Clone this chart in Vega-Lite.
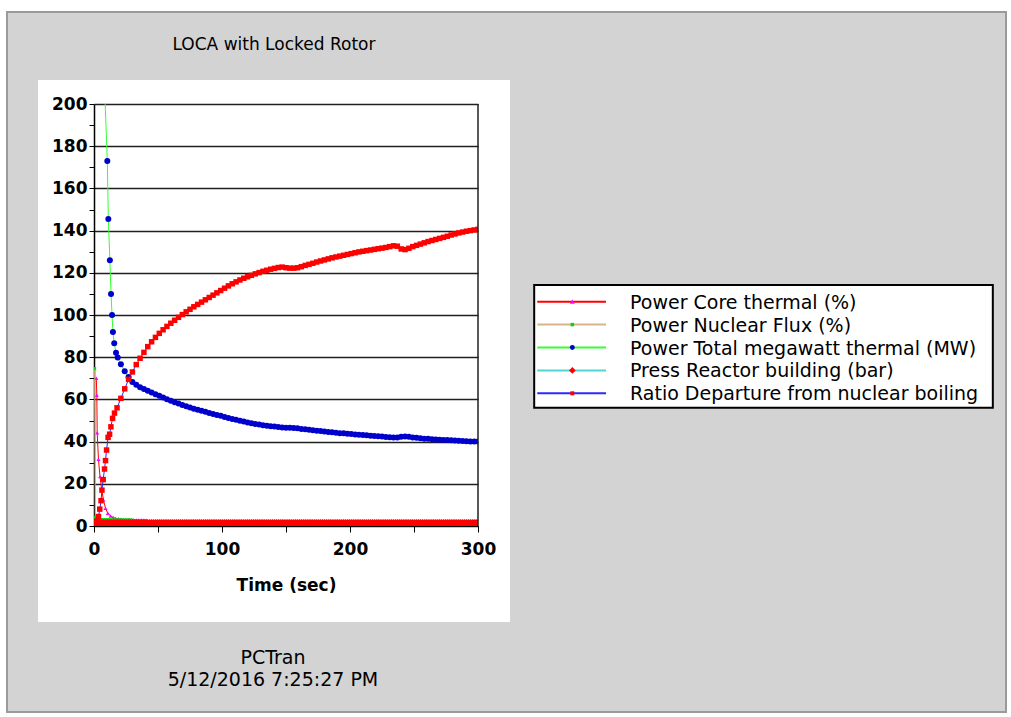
{
"$schema": "https://vega.github.io/schema/vega-lite/v6.json",
"width": 384,
"height": 422,
"autosize": {"type": "none"},
"padding": {"left": 94, "top": 104, "right": 533, "bottom": 191},
"background": "#ffffff",
"config": {"view": {"stroke": null}, "font": "DejaVu Sans"},
"datasets": {
"core": [{"t":1.8,"v":70},{"t":2.2,"v":62},{"t":2.5,"v":44.2},{"t":3.5,"v":31.6},{"t":4.7,"v":23.4},{"t":6.1,"v":17},{"t":7.4,"v":12.3},{"t":9,"v":8.4},{"t":10.8,"v":6},{"t":13,"v":4.7},{"t":15,"v":4},{"t":17,"v":3.6},{"t":19,"v":3.4},{"t":21,"v":3.2},{"t":23,"v":3.1},{"t":25,"v":3},{"t":27,"v":3},{"t":29,"v":2.9},{"t":31,"v":2.9},{"t":33,"v":2.9},{"t":35,"v":2.8},{"t":37,"v":2.8},{"t":39,"v":2.8},{"t":41,"v":2.7},{"t":50,"v":1.8},{"t":100,"v":1.6},{"t":200,"v":1.5},{"t":300,"v":1.4}],
"flux": [{"t":0.5,"v":74.6},{"t":1,"v":4},{"t":2,"v":3.4},{"t":3,"v":3.2},{"t":4.5,"v":3.1},{"t":6,"v":3.1},{"t":7.5,"v":3},{"t":9,"v":3},{"t":10.5,"v":3},{"t":12,"v":3},{"t":13.5,"v":2.9},{"t":15,"v":2.9},{"t":16.5,"v":2.9},{"t":18,"v":2.9},{"t":19.5,"v":2.9},{"t":21,"v":2.9},{"t":22.5,"v":2.9},{"t":24,"v":2.9},{"t":25.5,"v":2.9},{"t":27,"v":2.9},{"t":28.5,"v":2.9},{"t":30,"v":2.8},{"t":40,"v":1.8},{"t":100,"v":1.5},{"t":200,"v":1.4},{"t":300,"v":1.3}],
"total": [{"t":8,"v":212},{"t":10.4,"v":173},{"t":11.2,"v":145.5},{"t":12.4,"v":126},{"t":13.3,"v":110},{"t":14.1,"v":100},{"t":14.8,"v":92},{"t":15.8,"v":86.6},{"t":17.2,"v":82.1},{"t":18.5,"v":79.8},{"t":21,"v":76.6},{"t":24,"v":73.3},{"t":27,"v":70.6},{"t":30,"v":68.3},{"t":33,"v":66.9},{"t":36,"v":65.8},{"t":39,"v":64.9},{"t":42,"v":64.1},{"t":45,"v":63.3},{"t":48,"v":62.5},{"t":51,"v":61.7},{"t":54,"v":60.9},{"t":57,"v":60.1},{"t":60,"v":59.4},{"t":63,"v":58.7},{"t":66,"v":58},{"t":69,"v":57.4},{"t":72,"v":56.8},{"t":75,"v":56.2},{"t":78,"v":55.6},{"t":81,"v":55.1},{"t":84,"v":54.6},{"t":87,"v":54.1},{"t":90,"v":53.6},{"t":93,"v":53.1},{"t":96,"v":52.6},{"t":99,"v":52.2},{"t":102,"v":51.7},{"t":105,"v":51.2},{"t":108,"v":50.7},{"t":111,"v":50.3},{"t":114,"v":49.9},{"t":117,"v":49.5},{"t":120,"v":49.1},{"t":123,"v":48.7},{"t":126,"v":48.4},{"t":129,"v":48.1},{"t":132,"v":47.8},{"t":135,"v":47.5},{"t":138,"v":47.3},{"t":141,"v":47.1},{"t":144,"v":46.9},{"t":147,"v":46.7},{"t":150,"v":46.6},{"t":153,"v":46.6},{"t":156,"v":46.5},{"t":159,"v":46.3},{"t":162,"v":46},{"t":165,"v":45.8},{"t":168,"v":45.6},{"t":171,"v":45.4},{"t":174,"v":45.2},{"t":177,"v":45},{"t":180,"v":44.8},{"t":183,"v":44.6},{"t":186,"v":44.4},{"t":189,"v":44.2},{"t":192,"v":44},{"t":195,"v":43.9},{"t":198,"v":43.7},{"t":201,"v":43.6},{"t":204,"v":43.4},{"t":207,"v":43.3},{"t":210,"v":43.1},{"t":213,"v":43},{"t":216,"v":42.8},{"t":219,"v":42.7},{"t":222,"v":42.5},{"t":225,"v":42.4},{"t":228,"v":42.2},{"t":231,"v":42.1},{"t":234,"v":42},{"t":237,"v":42},{"t":240,"v":42.3},{"t":243,"v":42.4},{"t":246,"v":42.3},{"t":249,"v":42},{"t":252,"v":41.8},{"t":255,"v":41.6},{"t":258,"v":41.4},{"t":261,"v":41.3},{"t":264,"v":41.1},{"t":267,"v":41},{"t":270,"v":40.9},{"t":273,"v":40.8},{"t":276,"v":40.7},{"t":279,"v":40.6},{"t":282,"v":40.5},{"t":285,"v":40.4},{"t":288,"v":40.3},{"t":291,"v":40.2},{"t":294,"v":40.1},{"t":297,"v":40},{"t":300,"v":40}],
"press": [{"t":0,"v":1.1},{"t":1.5,"v":1.1},{"t":3,"v":1.1},{"t":4.5,"v":1.1},{"t":6,"v":1.1},{"t":7.5,"v":1.1},{"t":9,"v":1.1},{"t":10.5,"v":1.1},{"t":12,"v":1.1},{"t":13.5,"v":1.1},{"t":15,"v":1.1},{"t":16.5,"v":1.1},{"t":18,"v":1.1},{"t":19.5,"v":1.1},{"t":21,"v":1.1},{"t":22.5,"v":1.1},{"t":24,"v":1.1},{"t":25.5,"v":1.1},{"t":27,"v":1.1},{"t":28.5,"v":1.1},{"t":30,"v":1.1},{"t":31.5,"v":1.1},{"t":33,"v":1.1},{"t":34.5,"v":1.1},{"t":36,"v":1.1},{"t":37.5,"v":1.1},{"t":39,"v":1.1},{"t":40.5,"v":1.1},{"t":42,"v":1.1},{"t":43.5,"v":1.1},{"t":45,"v":1.1},{"t":46.5,"v":1.1},{"t":48,"v":1.1},{"t":49.5,"v":1.1},{"t":51,"v":1.1},{"t":52.5,"v":1.1},{"t":54,"v":1.1},{"t":55.5,"v":1.1},{"t":57,"v":1.1},{"t":58.5,"v":1.1},{"t":60,"v":1.1},{"t":61.5,"v":1.1},{"t":63,"v":1.1},{"t":64.5,"v":1.1},{"t":66,"v":1.1},{"t":67.5,"v":1.1},{"t":69,"v":1.1},{"t":70.5,"v":1.1},{"t":72,"v":1.1},{"t":73.5,"v":1.1},{"t":75,"v":1.1},{"t":76.5,"v":1.1},{"t":78,"v":1.1},{"t":79.5,"v":1.1},{"t":81,"v":1.1},{"t":82.5,"v":1.1},{"t":84,"v":1.1},{"t":85.5,"v":1.1},{"t":87,"v":1.1},{"t":88.5,"v":1.1},{"t":90,"v":1.1},{"t":91.5,"v":1.1},{"t":93,"v":1.1},{"t":94.5,"v":1.1},{"t":96,"v":1.1},{"t":97.5,"v":1.1},{"t":99,"v":1.1},{"t":100.5,"v":1.1},{"t":102,"v":1.1},{"t":103.5,"v":1.1},{"t":105,"v":1.1},{"t":106.5,"v":1.1},{"t":108,"v":1.1},{"t":109.5,"v":1.1},{"t":111,"v":1.1},{"t":112.5,"v":1.1},{"t":114,"v":1.1},{"t":115.5,"v":1.1},{"t":117,"v":1.1},{"t":118.5,"v":1.1},{"t":120,"v":1.1},{"t":121.5,"v":1.1},{"t":123,"v":1.1},{"t":124.5,"v":1.1},{"t":126,"v":1.1},{"t":127.5,"v":1.1},{"t":129,"v":1.1},{"t":130.5,"v":1.1},{"t":132,"v":1.1},{"t":133.5,"v":1.1},{"t":135,"v":1.1},{"t":136.5,"v":1.1},{"t":138,"v":1.1},{"t":139.5,"v":1.1},{"t":141,"v":1.1},{"t":142.5,"v":1.1},{"t":144,"v":1.1},{"t":145.5,"v":1.1},{"t":147,"v":1.1},{"t":148.5,"v":1.1},{"t":150,"v":1.1},{"t":151.5,"v":1.1},{"t":153,"v":1.1},{"t":154.5,"v":1.1},{"t":156,"v":1.1},{"t":157.5,"v":1.1},{"t":159,"v":1.1},{"t":160.5,"v":1.1},{"t":162,"v":1.1},{"t":163.5,"v":1.1},{"t":165,"v":1.1},{"t":166.5,"v":1.1},{"t":168,"v":1.1},{"t":169.5,"v":1.1},{"t":171,"v":1.1},{"t":172.5,"v":1.1},{"t":174,"v":1.1},{"t":175.5,"v":1.1},{"t":177,"v":1.1},{"t":178.5,"v":1.1},{"t":180,"v":1.1},{"t":181.5,"v":1.1},{"t":183,"v":1.1},{"t":184.5,"v":1.1},{"t":186,"v":1.1},{"t":187.5,"v":1.1},{"t":189,"v":1.1},{"t":190.5,"v":1.1},{"t":192,"v":1.1},{"t":193.5,"v":1.1},{"t":195,"v":1.1},{"t":196.5,"v":1.1},{"t":198,"v":1.1},{"t":199.5,"v":1.1},{"t":201,"v":1.1},{"t":202.5,"v":1.1},{"t":204,"v":1.1},{"t":205.5,"v":1.1},{"t":207,"v":1.1},{"t":208.5,"v":1.1},{"t":210,"v":1.1},{"t":211.5,"v":1.1},{"t":213,"v":1.1},{"t":214.5,"v":1.1},{"t":216,"v":1.1},{"t":217.5,"v":1.1},{"t":219,"v":1.1},{"t":220.5,"v":1.1},{"t":222,"v":1.1},{"t":223.5,"v":1.1},{"t":225,"v":1.1},{"t":226.5,"v":1.1},{"t":228,"v":1.1},{"t":229.5,"v":1.1},{"t":231,"v":1.1},{"t":232.5,"v":1.1},{"t":234,"v":1.1},{"t":235.5,"v":1.1},{"t":237,"v":1.1},{"t":238.5,"v":1.1},{"t":240,"v":1.1},{"t":241.5,"v":1.1},{"t":243,"v":1.1},{"t":244.5,"v":1.1},{"t":246,"v":1.1},{"t":247.5,"v":1.1},{"t":249,"v":1.1},{"t":250.5,"v":1.1},{"t":252,"v":1.1},{"t":253.5,"v":1.1},{"t":255,"v":1.1},{"t":256.5,"v":1.1},{"t":258,"v":1.1},{"t":259.5,"v":1.1},{"t":261,"v":1.1},{"t":262.5,"v":1.1},{"t":264,"v":1.1},{"t":265.5,"v":1.1},{"t":267,"v":1.1},{"t":268.5,"v":1.1},{"t":270,"v":1.1},{"t":271.5,"v":1.1},{"t":273,"v":1.1},{"t":274.5,"v":1.1},{"t":276,"v":1.1},{"t":277.5,"v":1.1},{"t":279,"v":1.1},{"t":280.5,"v":1.1},{"t":282,"v":1.1},{"t":283.5,"v":1.1},{"t":285,"v":1.1},{"t":286.5,"v":1.1},{"t":288,"v":1.1},{"t":289.5,"v":1.1},{"t":291,"v":1.1},{"t":292.5,"v":1.1},{"t":294,"v":1.1},{"t":295.5,"v":1.1},{"t":297,"v":1.1},{"t":298.5,"v":1.1},{"t":300,"v":1.1}],
"dnb": [{"t":0,"v":0.5},{"t":1.5,"v":1.2},{"t":2.6,"v":2.5},{"t":3.5,"v":4.5},{"t":4.5,"v":8},{"t":5.5,"v":12},{"t":6.2,"v":17},{"t":7.2,"v":22},{"t":8.2,"v":27},{"t":9,"v":31},{"t":9.8,"v":36},{"t":11,"v":42},{"t":12.2,"v":43.5},{"t":13.2,"v":47},{"t":14.5,"v":51},{"t":16,"v":53.5},{"t":18,"v":56},{"t":21,"v":60.5},{"t":24,"v":65},{"t":27,"v":69.5},{"t":30,"v":73},{"t":33,"v":76.5},{"t":36,"v":79.5},{"t":39,"v":82.3},{"t":42,"v":85},{"t":45,"v":87.3},{"t":48,"v":89.4},{"t":51,"v":91.3},{"t":54,"v":93},{"t":57,"v":94.6},{"t":60,"v":96.1},{"t":63,"v":97.5},{"t":66,"v":98.9},{"t":69,"v":100.2},{"t":72,"v":101.5},{"t":75,"v":102.7},{"t":78,"v":103.9},{"t":81,"v":105},{"t":84,"v":106.1},{"t":87,"v":107.2},{"t":90,"v":108.3},{"t":93,"v":109.4},{"t":96,"v":110.5},{"t":99,"v":111.6},{"t":102,"v":112.7},{"t":105,"v":113.8},{"t":108,"v":114.8},{"t":111,"v":115.7},{"t":114,"v":116.6},{"t":117,"v":117.4},{"t":120,"v":118.1},{"t":123,"v":118.8},{"t":126,"v":119.5},{"t":129,"v":120.1},{"t":132,"v":120.7},{"t":135,"v":121.2},{"t":138,"v":121.7},{"t":141,"v":122.1},{"t":144,"v":122.5},{"t":147,"v":122.7},{"t":150,"v":122.4},{"t":153,"v":122.2},{"t":156,"v":122.2},{"t":159,"v":122.4},{"t":162,"v":122.9},{"t":165,"v":123.5},{"t":168,"v":124},{"t":171,"v":124.5},{"t":174,"v":125.1},{"t":177,"v":125.6},{"t":180,"v":126.1},{"t":183,"v":126.6},{"t":186,"v":127.1},{"t":189,"v":127.5},{"t":192,"v":127.9},{"t":195,"v":128.3},{"t":198,"v":128.7},{"t":201,"v":129.1},{"t":204,"v":129.5},{"t":207,"v":129.9},{"t":210,"v":130.2},{"t":213,"v":130.5},{"t":216,"v":130.8},{"t":219,"v":131.1},{"t":222,"v":131.4},{"t":225,"v":131.7},{"t":228,"v":132},{"t":231,"v":132.4},{"t":234,"v":132.8},{"t":237,"v":132.6},{"t":240,"v":131.3},{"t":243,"v":131},{"t":246,"v":131.6},{"t":249,"v":132.4},{"t":252,"v":133},{"t":255,"v":133.6},{"t":258,"v":134.2},{"t":261,"v":134.8},{"t":264,"v":135.3},{"t":267,"v":135.8},{"t":270,"v":136.3},{"t":273,"v":136.8},{"t":276,"v":137.3},{"t":279,"v":137.9},{"t":282,"v":138.4},{"t":285,"v":138.9},{"t":288,"v":139.3},{"t":291,"v":139.7},{"t":294,"v":140},{"t":297,"v":140.3},{"t":300,"v":140.6}],
"legend": [{"name":"Power Core thermal (%)"},{"name":"Power Nuclear Flux (%)"},{"name":"Power Total megawatt thermal (MW)"},{"name":"Press Reactor building (bar)"},{"name":"Ratio Departure from nuclear boiling"}]
},
"layer": [
{"data":{"values":[{}]},"mark":{"type":"rect","color":"#d3d3d3"},"encoding":{"x":{"datum":-67.97,"type":"quantitative"},"x2":{"datum":712.5},"y":{"datum":243.6,"type":"quantitative","scale":{"domain":[0,200],"nice":false},"axis":null},"y2":{"datum":211.37}}},
{"data":{"values":[{}]},"mark":{"type":"rect","color":"#d3d3d3"},"encoding":{"x":{"datum":-67.97,"type":"quantitative"},"x2":{"datum":712.5},"y":{"datum":-45.5,"type":"quantitative","scale":{"domain":[0,200],"nice":false},"axis":null},"y2":{"datum":-88.15}}},
{"data":{"values":[{}]},"mark":{"type":"rect","color":"#d3d3d3"},"encoding":{"x":{"datum":-67.97,"type":"quantitative"},"x2":{"datum":-43.75},"y":{"datum":211.37,"type":"quantitative","scale":{"domain":[0,200],"nice":false},"axis":null},"y2":{"datum":-45.5}}},
{"data":{"values":[{}]},"mark":{"type":"rect","color":"#d3d3d3"},"encoding":{"x":{"datum":325,"type":"quantitative"},"x2":{"datum":712.5},"y":{"datum":211.37,"type":"quantitative","scale":{"domain":[0,200],"nice":false},"axis":null},"y2":{"datum":-45.5}}},
{"data":{"values":[{}]},"mark":{"type":"rect","fill":"#ffffff","fillOpacity":0,"stroke":"#9a9a9a","strokeWidth":2},"encoding":{"x":{"datum":-67.97,"type":"quantitative"},"x2":{"datum":712.5},"y":{"datum":243.6,"type":"quantitative","scale":{"domain":[0,200],"nice":false},"axis":null},"y2":{"datum":-88.15}}},
{"data":{"values":[{}]},"mark":{"type":"text","text":"LOCA with Locked Rotor","font":"DejaVu Sans","fontSize":17,"color":"#000000","align":"center","baseline":"middle"},"encoding":{"x":{"datum":140.6,"type":"quantitative"},"y":{"datum":228,"type":"quantitative","scale":{"domain":[0,200],"nice":false},"axis":null}}},
{"data":{"values":[{}]},"mark":{"type":"text","text":"PCTran","font":"DejaVu Sans","fontSize":19,"color":"#000000","align":"center","baseline":"middle"},"encoding":{"x":{"datum":139.8,"type":"quantitative"},"y":{"datum":-62.6,"type":"quantitative","scale":{"domain":[0,200],"nice":false},"axis":null}}},
{"data":{"values":[{}]},"mark":{"type":"text","text":"5/12/2016 7:25:27 PM","font":"DejaVu Sans","fontSize":19,"color":"#000000","align":"center","baseline":"middle"},"encoding":{"x":{"datum":139.8,"type":"quantitative"},"y":{"datum":-73,"type":"quantitative","scale":{"domain":[0,200],"nice":false},"axis":null}}},
{"data":{"values":[{}]},"mark":{"type":"rect","fill":"#ffffff","stroke":"#000000","strokeWidth":2},"encoding":{"x":{"datum":343.9,"type":"quantitative"},"x2":{"datum":702.2},"y":{"datum":114.2,"type":"quantitative","scale":{"domain":[0,200],"nice":false},"axis":null},"y2":{"datum":56}}},
{"data":{"name":"core"},"mark":{"type":"line","color":"#ff0000","strokeWidth":1,"clip":true},
"encoding":{
"x":{"field":"t","type":"quantitative","scale":{"domain":[0,300],"nice":false,"zero":false},
"axis":{"values":[0,50,100,150,200,250,300],"labelExpr":"datum.value % 100 === 0 ? datum.label : ''","title":"Time (sec)","grid":false,"domainColor":"#000000","domainWidth":1,"tickColor":"#000000","tickSize":6,"labelFont":"DejaVu Sans","labelFontWeight":"bold","labelFontSize":17,"labelColor":"#000000","labelPadding":9,"labelFlush":false,"labelOverlap":false,"titleFont":"DejaVu Sans","titleFontWeight":"bold","titleFontSize":17,"titleColor":"#000000","titlePadding":20}},
"y":{"field":"v","type":"quantitative","scale":{"domain":[0,200],"nice":false},
"axis":{"values":[0,10,20,30,40,50,60,70,80,90,100,110,120,130,140,150,160,170,180,190,200],"labelExpr":"datum.value % 20 === 0 ? datum.label : ''","title":null,"grid":true,"gridColor":"#202020","gridWidth":1.5,"gridOpacity":{"condition":{"test":"datum.value % 20 === 0","value":1},"value":0},"domainColor":"#000000","domainWidth":1.5,"tickColor":"#000000","tickSize":5,"labelFont":"DejaVu Sans","labelFontWeight":"bold","labelFontSize":17,"labelColor":"#000000","labelPadding":2,"labelFlush":false,"labelOverlap":false}}}},
{"data":{"name":"core"},"mark":{"type":"point","shape":"triangle-up","filled":true,"color":"#ff00ff","size":16,"opacity":1,"strokeWidth":0,"clip":true},
"encoding":{"x":{"field":"t","type":"quantitative"},"y":{"field":"v","type":"quantitative","scale":{"domain":[0,200],"nice":false},"axis":null}}},
{"data":{"name":"flux"},"mark":{"type":"line","color":"#d8b48c","strokeWidth":1,"clip":true},
"encoding":{"x":{"field":"t","type":"quantitative"},"y":{"field":"v","type":"quantitative","scale":{"domain":[0,200],"nice":false},"axis":null}}},
{"data":{"name":"flux"},"mark":{"type":"point","shape":"square","filled":true,"color":"#00dd00","size":9,"opacity":1,"strokeWidth":0,"clip":true},
"encoding":{"x":{"field":"t","type":"quantitative"},"y":{"field":"v","type":"quantitative","scale":{"domain":[0,200],"nice":false},"axis":null}}},
{"data":{"name":"total"},"mark":{"type":"line","color":"#33ff33","strokeWidth":1,"clip":true},
"encoding":{"x":{"field":"t","type":"quantitative"},"y":{"field":"v","type":"quantitative","scale":{"domain":[0,200],"nice":false},"axis":null}}},
{"data":{"name":"total"},"mark":{"type":"point","shape":"circle","filled":true,"color":"#0000cc","size":36,"opacity":1,"strokeWidth":0,"clip":true},
"encoding":{"x":{"field":"t","type":"quantitative"},"y":{"field":"v","type":"quantitative","scale":{"domain":[0,200],"nice":false},"axis":null}}},
{"data":{"name":"press"},"mark":{"type":"line","color":"#4fd5d5","strokeWidth":1,"clip":true},
"encoding":{"x":{"field":"t","type":"quantitative"},"y":{"field":"v","type":"quantitative","scale":{"domain":[0,200],"nice":false},"axis":null}}},
{"data":{"name":"press"},"mark":{"type":"point","shape":"diamond","filled":true,"color":"#ff0000","size":90,"opacity":1,"strokeWidth":0,"clip":true},
"encoding":{"x":{"field":"t","type":"quantitative"},"y":{"field":"v","type":"quantitative","scale":{"domain":[0,200],"nice":false},"axis":null}}},
{"data":{"name":"dnb"},"mark":{"type":"line","color":"#2a2aff","strokeWidth":1,"clip":true},
"encoding":{"x":{"field":"t","type":"quantitative"},"y":{"field":"v","type":"quantitative","scale":{"domain":[0,200],"nice":false},"axis":null}}},
{"data":{"name":"dnb"},"mark":{"type":"point","shape":"square","filled":true,"color":"#ff0000","size":30,"opacity":1,"strokeWidth":0,"clip":true},
"encoding":{"x":{"field":"t","type":"quantitative"},"y":{"field":"v","type":"quantitative","scale":{"domain":[0,200],"nice":false},"axis":null}}},
{"data":{"values":[{}]},"mark":{"type":"rule","color":"#202020","strokeWidth":1.5},"encoding":{"x":{"datum":300,"type":"quantitative"},"y":{"datum":0,"type":"quantitative","scale":{"domain":[0,200],"nice":false},"axis":null},"y2":{"datum":200}}},
{"data":{"name":"legend"},"mark":{"type":"rule","strokeWidth":2},
"encoding":{"x":{"datum":346.3,"type":"quantitative"},"x2":{"datum":400},
"y":{"field":"name","type":"nominal","scale":{"type":"point","domain":["Power Core thermal (%)","Power Nuclear Flux (%)","Power Total megawatt thermal (MW)","Press Reactor building (bar)","Ratio Departure from nuclear boiling"],"range":[197.7,289.3],"padding":0},"axis":null},
"stroke":{"field":"name","type":"nominal","scale":{"domain":["Power Core thermal (%)","Power Nuclear Flux (%)","Power Total megawatt thermal (MW)","Press Reactor building (bar)","Ratio Departure from nuclear boiling"],"range":["#ff0000","#d8b48c","#33ff33","#4fd5d5","#2a2aff"]},"legend":null}}},
{"data":{"name":"legend"},"mark":{"type":"point","filled":true,"opacity":1,"strokeWidth":0},
"encoding":{"x":{"datum":373.7,"type":"quantitative"},
"y":{"field":"name","type":"nominal","scale":{"type":"point","domain":["Power Core thermal (%)","Power Nuclear Flux (%)","Power Total megawatt thermal (MW)","Press Reactor building (bar)","Ratio Departure from nuclear boiling"],"range":[197.7,289.3],"padding":0},"axis":null},
"fill":{"field":"name","type":"nominal","scale":{"domain":["Power Core thermal (%)","Power Nuclear Flux (%)","Power Total megawatt thermal (MW)","Press Reactor building (bar)","Ratio Departure from nuclear boiling"],"range":["#ff00ff","#00dd00","#0000cc","#ff0000","#ff0000"]},"legend":null},
"shape":{"field":"name","type":"nominal","scale":{"domain":["Power Core thermal (%)","Power Nuclear Flux (%)","Power Total megawatt thermal (MW)","Press Reactor building (bar)","Ratio Departure from nuclear boiling"],"range":["triangle-up","square","circle","diamond","square"]},"legend":null},
"size":{"field":"name","type":"nominal","scale":{"type":"ordinal","domain":["Power Core thermal (%)","Power Nuclear Flux (%)","Power Total megawatt thermal (MW)","Press Reactor building (bar)","Ratio Departure from nuclear boiling"],"range":[24,12,24,45,16]},"legend":null}}},
{"data":{"name":"legend"},"mark":{"type":"text","align":"left","baseline":"middle","font":"DejaVu Sans","fontSize":19,"color":"#000000","dy":1},
"encoding":{"x":{"datum":418.75,"type":"quantitative"},
"y":{"field":"name","type":"nominal","scale":{"type":"point","domain":["Power Core thermal (%)","Power Nuclear Flux (%)","Power Total megawatt thermal (MW)","Press Reactor building (bar)","Ratio Departure from nuclear boiling"],"range":[197.7,289.3],"padding":0},"axis":null},
"text":{"field":"name","type":"nominal"}}}
],
"resolve": {"scale": {"y": "independent"}}
}
